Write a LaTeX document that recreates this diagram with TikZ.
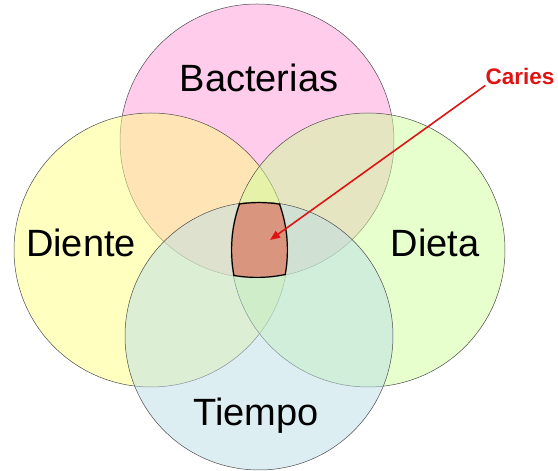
\documentclass[tikz,border=0pt]{standalone}
\usepackage{fontspec}
\setmainfont{Liberation Sans}
\usetikzlibrary{arrows.meta}
\definecolor{bactcol}{RGB}{255,153,217}
\definecolor{dientecol}{RGB}{255,255,129}
\definecolor{dietacol}{RGB}{205,255,153}
\definecolor{tiempocol}{RGB}{187,221,231}
\definecolor{cariesfill}{RGB}{217,149,126}
\definecolor{cariesred}{RGB}{222,20,20}
\tikzset{
  factor/.style={draw=black!70,line width=0.5pt,fill opacity=0.5},
  factorlabel/.style={font=\fontsize{38}{44}\selectfont,inner sep=0pt,anchor=base}
}
\begin{document}
\begin{tikzpicture}[x=1pt,y=1pt]
\useasboundingbox (0,0) rectangle (558,471);
\path
(257,330) coordinate (B)
(151,221) coordinate (Di)
(368,221) coordinate (De)
(259,135) coordinate (T)
;
\foreach \c/\r/\col in {B/137/bactcol,Di/137/dientecol,De/137/dietacol,T/134/tiempocol}
\draw[factor,fill=\col] (\c) circle(\r);
% zona comun de los cuatro factores
\begin{scope}
\clip (B) circle(137);
\clip (Di) circle(137);
\clip (De) circle(137);
\clip (T) circle(134);
\fill[cariesfill] (B) circle(137);
\foreach \c/\r in {B/137,Di/137,De/137,T/134}
\draw[line width=2.4pt] (\c) circle(\r);
\end{scope}
\foreach \t/\x/\y in {Bacterias/259/379,Diente/81/214,Dieta/435/214,Tiempo/256/45}
\node[factorlabel] (\t) at (\x,\y) {\t};
\node[font=\bfseries\fontsize{22.5}{27}\selectfont,text=cariesred,inner sep=0pt,anchor=base] (caries) at (520,386) {Caries};
\coordinate (tip) at (270,231);
\draw[cariesred,line width=1.6pt,-{Triangle[length=10pt,width=8pt]}] (caries.south west) -- (tip);
\end{tikzpicture}
\end{document}
